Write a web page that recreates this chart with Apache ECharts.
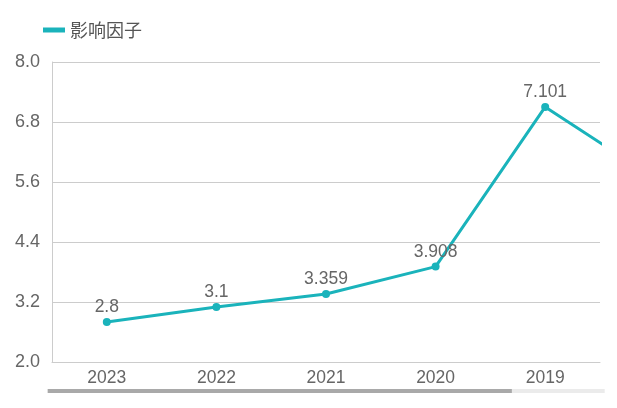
<!DOCTYPE html>
<html>
<head>
<meta charset="utf-8">
<script src="https://cdn.jsdelivr.net/npm/echarts@6/dist/echarts.min.js"></script>
<style>html,body{margin:0;padding:0;background:#fff}#c{width:617px;height:408px}</style>
</head>
<body>
<div id="c"></div>
<script>
const categories = ['2023', '2022', '2021', '2020', '2019', '2018'];
const values = [2.8, 3.1, 3.359, 3.908, 7.101, 5.67];
const seriesName = '影响因子';
const yTicks = { min: 2.0, max: 8.0, interval: 1.2 };

const chart = echarts.init(document.getElementById('c'));
const color = '#1ab3bb';
chart.setOption({
  animation: false,
  textStyle: { fontFamily: 'Liberation Sans, Arial, Noto Sans CJK SC, sans-serif' },
  legend: {
    left: 38, top: 16,
    icon: 'rect', itemWidth: 22, itemHeight: 5, itemGap: 10,
    textStyle: { fontSize: 18, color: '#555', fontFamily: 'Noto Sans CJK SC, sans-serif' },
    data: [seriesName]
  },
  grid: { left: 52, right: 17, top: 62, bottom: 46, containLabel: false },
  xAxis: {
    type: 'category', data: categories, boundaryGap: true,
    axisLine: { lineStyle: { color: '#ccc' } },
    axisTick: { alignWithLabel: true, length: 5, lineStyle: { color: '#ccc' } },
    axisLabel: { fontSize: 17.5, color: '#666', margin: 7 }
  },
  yAxis: {
    type: 'value', min: yTicks.min, max: yTicks.max, interval: yTicks.interval,
    axisLine: { show: true, lineStyle: { color: '#ccc' } },
    axisTick: { show: false },
    splitLine: { lineStyle: { color: '#ccc' } },
    axisLabel: { fontSize: 18, color: '#666', margin: 12, formatter: v => v.toFixed(1) }
  },
  dataZoom: [{
    type: 'slider', xAxisIndex: 0, start: 0, end: 83.33,
    filterMode: 'none',
    left: 47, right: 13, bottom: 15, height: 4,
    showDetail: false, showDataShadow: false, brushSelect: false,
    handleSize: 0, moveHandleSize: 0,
    handleStyle: { opacity: 0 },
    borderColor: 'transparent', borderRadius: 2,
    backgroundColor: '#ebebeb', fillerColor: '#a9a9a9',
    dataBackground: { lineStyle: { opacity: 0 }, areaStyle: { opacity: 0 } }
  }],
  series: [{
    name: seriesName, type: 'line', data: values,
    color: color,
    symbol: 'circle', symbolSize: 8,
    lineStyle: { width: 3, color: color },
    itemStyle: { color: color },
    label: { show: true, position: 'top', fontSize: 17.5, color: '#666', distance: 2 }
  }]
});
</script>
</body>
</html>
